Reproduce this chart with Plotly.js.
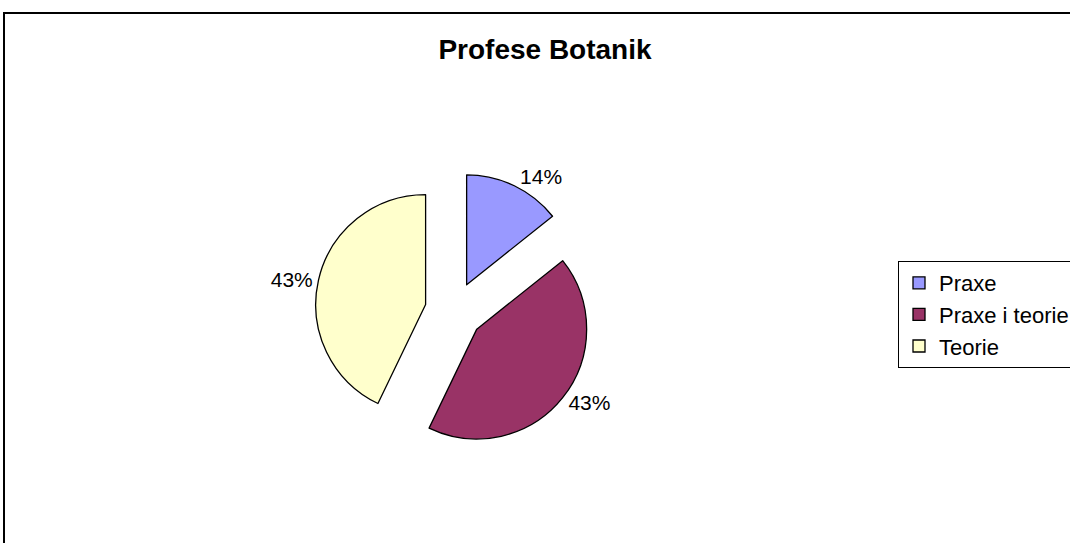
<!DOCTYPE html>
<html>
<head>
<meta charset="utf-8">
<script src="https://cdn.plot.ly/plotly-3.0.1.min.js"></script>
<style>
html,body{margin:0;padding:0;background:#fff;overflow:hidden;}
#chart{width:1110px;height:543px;}
</style>
</head>
<body>
<div id="chart"></div>
<script>
var categories = ["Praxe", "Praxe i teorie", "Teorie"];
var values = [1, 3, 3];
var colors = ["#9999FF", "#993366", "#FFFFCC"];
var chartTitle = "Profese Botanik";

// the page is 1070 px wide; the chart is drawn wider so that the frame and
// legend box run past the right edge, as in the reference
var W = 1110, H = 543;
var font = "Liberation Sans, Arial, sans-serif";

var trace = {
  type: "pie",
  labels: categories,
  values: values,
  sort: false,
  direction: "clockwise",
  rotation: 0,
  pull: [0.265, 0.265, 0.265],
  marker: {colors: colors, line: {color: "#000000", width: 1.3}},
  textinfo: "percent",
  texttemplate: "%{percent:.0%}",
  textposition: "outside",
  outsidetextfont: {family: font, size: 21, color: "#000"},
  hoverinfo: "label+percent",
  domain: {x: [315 / W, 593 / W], y: [1 - 450 / H, 1 - 172 / H]},
  automargin: false
};

var layout = {
  width: W, height: H,
  margin: {l: 0, r: 0, t: 0, b: 0},
  paper_bgcolor: "#ffffff",
  plot_bgcolor: "#ffffff",
  title: {
    text: "<b>" + chartTitle + "</b>",
    font: {family: font, size: 28, color: "#000"},
    x: 545 / W, xanchor: "center",
    y: 1 - 49 / H, yanchor: "middle"
  },
  showlegend: true,
  legend: {
    x: 898 / W, xanchor: "left",
    y: 1 - 261 / H, yanchor: "top",
    bordercolor: "#000", borderwidth: 1,
    bgcolor: "#fff",
    font: {family: font, size: 22, color: "#000"},
    traceorder: "normal",
    itemclick: false
  },
  shapes: [{
    type: "rect", xref: "paper", yref: "paper",
    x0: 4 / W, x1: 1.05, y0: -0.05, y1: 1 - 13 / H,
    line: {color: "#000", width: 2}
  }]
};

Plotly.newPlot("chart", [trace], layout, {displayModeBar: false, staticPlot: true});
</script>
</body>
</html>
